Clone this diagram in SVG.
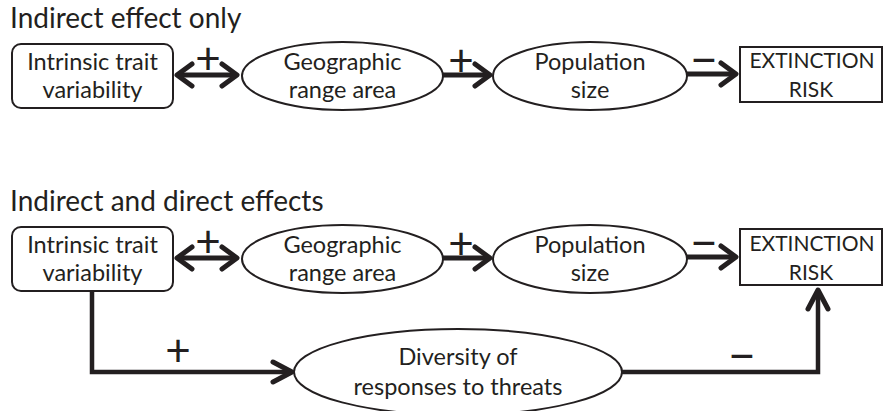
<svg xmlns="http://www.w3.org/2000/svg" width="884" height="411" viewBox="0 0 884 411">
<style>
.t{font-family:Lato,"Liberation Sans",sans-serif;fill:#231f20;}
.ttl{font-size:28px;}
.n{font-size:23.5px;text-anchor:middle;}
.k{font-size:21px;text-anchor:middle;}
.p{font-size:44px;text-anchor:middle;}
.m{font-size:48px;text-anchor:middle;}
.box{fill:#fff;stroke:#231f20;stroke-width:2;}
.c{fill:none;stroke:#231f20;stroke-width:5;}
.cb{fill:none;stroke:#231f20;stroke-width:4.5;stroke-linejoin:miter;}
</style>
<defs>
<marker id="ah" markerUnits="userSpaceOnUse" viewBox="-22 -15 26 30" refX="0" refY="0" markerWidth="26" markerHeight="30" orient="auto-start-reverse" overflow="visible">
<path d="M-15 -11 L0 0 L-15 11" fill="none" stroke="#231f20" stroke-width="5" stroke-linecap="round" stroke-linejoin="round"/>
</marker>
<marker id="ah2" markerUnits="userSpaceOnUse" viewBox="-22 -15 26 30" refX="0" refY="0" markerWidth="26" markerHeight="30" orient="auto" overflow="visible">
<path d="M-19 -10 L0 0 L-19 10" fill="none" stroke="#231f20" stroke-width="5" stroke-linecap="round" stroke-linejoin="round"/>
</marker>
</defs>
<rect width="884" height="411" fill="#fff"/>
<text class="t ttl" x="10" y="28">Indirect effect only</text>
<text class="t ttl" x="10" y="211">Indirect and direct effects</text>

<g id="connectors">
<line class="c" x1="177" y1="75" x2="237" y2="75" marker-start="url(#ah)" marker-end="url(#ah)"/>
<line class="c" x1="443" y1="75" x2="490" y2="75" marker-end="url(#ah)"/>
<line class="c" x1="686" y1="74" x2="736" y2="74" marker-end="url(#ah)"/>
<line class="c" x1="177" y1="258" x2="237" y2="258" marker-start="url(#ah)" marker-end="url(#ah)"/>
<line class="c" x1="443" y1="258" x2="490" y2="258" marker-end="url(#ah)"/>
<line class="c" x1="686" y1="257" x2="736" y2="257" marker-end="url(#ah)"/>
<polyline class="cb" points="92,291 92,372 292,372" marker-end="url(#ah2)"/>
<polyline class="cb" points="622,372 818,372 818,290" marker-end="url(#ah2)"/>
<text class="t p" x="208" y="74">+</text>
<text class="t p" x="461" y="76">+</text>
<text class="t m" x="704" y="77">−</text>
<text class="t p" x="208" y="257">+</text>
<text class="t p" x="461" y="259">+</text>
<text class="t m" x="704" y="260">−</text>
<text class="t p" x="178" y="366">+</text>
<text class="t m" x="742" y="373">−</text>
</g>

<g id="trait1">
<rect class="box" x="12" y="44" width="161" height="64" rx="9"/>
<text class="t n" x="92.5" y="70">Intrinsic trait</text>
<text class="t n" x="92.5" y="98">variability</text>
</g>
<g id="range1">
<ellipse class="box" cx="342.5" cy="76" rx="100.5" ry="34"/>
<text class="t n" x="342.5" y="70">Geographic</text>
<text class="t n" x="342.5" y="98">range area</text>
</g>
<g id="pop1">
<ellipse class="box" cx="590" cy="76" rx="97" ry="34"/>
<text class="t n" x="590" y="70">Population</text>
<text class="t n" x="590" y="98">size</text>
</g>
<g id="risk1">
<rect class="box" x="740" y="47" width="142" height="55"/>
<text class="t k" x="812" y="68">EXTINCTION</text>
<text class="t k" x="811" y="97">RISK</text>
</g>

<g id="trait2">
<rect class="box" x="12" y="227" width="161" height="64" rx="9"/>
<text class="t n" x="92.5" y="253">Intrinsic trait</text>
<text class="t n" x="92.5" y="281">variability</text>
</g>
<g id="range2">
<ellipse class="box" cx="342.5" cy="259" rx="100.5" ry="34"/>
<text class="t n" x="342.5" y="253">Geographic</text>
<text class="t n" x="342.5" y="281">range area</text>
</g>
<g id="pop2">
<ellipse class="box" cx="590" cy="259" rx="97" ry="34"/>
<text class="t n" x="590" y="253">Population</text>
<text class="t n" x="590" y="281">size</text>
</g>
<g id="risk2">
<rect class="box" x="740" y="229" width="142" height="56"/>
<text class="t k" x="812" y="251">EXTINCTION</text>
<text class="t k" x="811" y="280">RISK</text>
</g>
<g id="diversity">
<ellipse class="box" cx="458" cy="372" rx="164" ry="43"/>
<text class="t n" x="458" y="365">Diversity of</text>
<text class="t n" x="458" y="395">responses to threats</text>
</g>
</svg>
